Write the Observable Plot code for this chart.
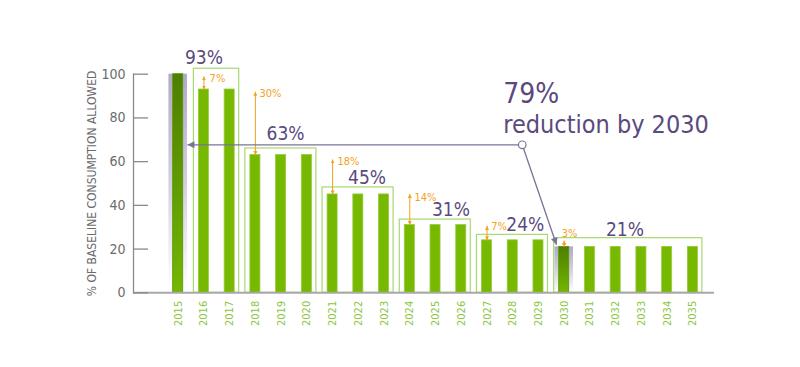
<!DOCTYPE html>
<html><head><meta charset="utf-8">
<script src="https://cdn.jsdelivr.net/npm/d3@7"></script>
<script src="https://cdn.jsdelivr.net/npm/@observablehq/plot@0.6"></script>
<style>
html,body{margin:0;padding:0;background:#fff;}
#chart svg{display:block;}
</style></head><body><div id="chart"></div>
<script>
// ---- data ----
const years = [2015,2016,2017,2018,2019,2020,2021,2022,2023,2024,2025,2026,2027,2028,2029,2030,2031,2032,2033,2034,2035];
const allowed = [100,93,93,63,63,63,45,45,45,31,31,31,24,24,24,21,21,21,21,21,21];
const highlightYears = [2015, 2030];
const yTicks = [0,20,40,60,80,100];
const yTitle = "% OF BASELINE CONSUMPTION ALLOWED";

const groupStart = [2016,2018,2021,2024,2027,2030];
const groupEnd   = [2017,2020,2023,2026,2029,2035];
const groupTop   = [102.5,66,48.2,33.5,26.5,25];
const groupLabels = ["93%","63%","45%","31%","24%","21%"];
const groupLabelX = [2016,2019.17,2022.34,2025.6,2028.49,2032.36];
const groupLabelY = [104.7,70,49.9,35.3,28.1,25.8];

const stepYears  = [2016,2018,2021,2024,2027,2030];
const stepFrom   = [99,92,61,45.2,30.6,23.9];
const stepTo     = [93,63,45,31,24,21];
const stepLabels = ["7%","30%","18%","14%","7%","3%"];
const stepLabelX = [2016.22,2018.16,2021.19,2024.18,2027.16,2029.9];
const stepLabelY = [98.1,91.1,60,43.6,30.3,27.2];

const headline = ["79%","reduction by 2030"];
const headlineX = [2027.63,2027.63];
const headlineY = [87,73.3];
const calloutJoint = [2028.37, 67.7];
const calloutTargetX = [2015.36, 2029.7];
const calloutTargetY = [67.7, 22];

// ---- tables ----
const bars = years.map((y,i)=>({year:y, value:allowed[i], hi: highlightYears.includes(y)}));
const groups = groupStart.map((s,i)=>({s, e:groupEnd[i], top:groupTop[i], label:groupLabels[i], lx:groupLabelX[i], ly:groupLabelY[i]}));
const steps = stepYears.map((y,i)=>({year:y, from:stepFrom[i], to:stepTo[i], label:stepLabels[i], lx:stepLabelX[i], ly:stepLabelY[i]}));
const heads = headline.map((t,i)=>({t, x:headlineX[i], y:headlineY[i], size: i === 0 ? 28 : 25}));
const callouts = calloutTargetX.map((x,i)=>({x1:calloutJoint[0], y1:calloutJoint[1], x2:x, y2:calloutTargetY[i]}));

const FONT = "'DejaVu Sans Condensed','Liberation Sans Narrow',sans-serif";
const PURPLE = "#5a4a7e", LINE = "#7c7299", GREEN = "#76b900", BOX = "#a9d870", ORANGE = "#f4a11c";

const defs = () => {
  const d = d3.create("svg:defs");
  const sh = d.append("linearGradient").attr("id","shadowGrad").attr("x1",0).attr("y1",0).attr("x2",0).attr("y2",1);
  sh.append("stop").attr("offset","0%").attr("stop-color","#aeaac4");
  sh.append("stop").attr("offset","50%").attr("stop-color","#d2cfe0");
  sh.append("stop").attr("offset","100%").attr("stop-color","#ffffff");
  const dk = d.append("linearGradient").attr("id","darkGrad").attr("x1",0).attr("y1",0).attr("x2",0).attr("y2",1);
  dk.append("stop").attr("offset","0%").attr("stop-color","#4c7f00");
  dk.append("stop").attr("offset","100%").attr("stop-color","#74b600");
  const ph = d.append("marker").attr("id","pHead").attr("viewBox","0 0 10 10").attr("refX",10).attr("refY",5)
    .attr("markerWidth",9).attr("markerHeight",7).attr("markerUnits","userSpaceOnUse").attr("orient","auto");
  ph.append("path").attr("d","M0,0L10,5L0,10z").attr("fill",LINE);
  const oh = d.append("marker").attr("id","oHead").attr("viewBox","0 0 10 10").attr("refX",10).attr("refY",5)
    .attr("markerWidth",4).attr("markerHeight",4).attr("markerUnits","userSpaceOnUse").attr("orient","auto-start-reverse");
  oh.append("path").attr("d","M0,0L10,5L0,10z").attr("fill",ORANGE);
  return d.node();
};

const plot = Plot.plot({
  width: 800, height: 367,
  marginLeft: 133, marginRight: 86, marginTop: 73.7, marginBottom: 74.7,
  style: {fontFamily: FONT, background: "#fff", overflow: "visible"},
  x: {type: "linear", domain: [2013.263, 2035.84]},
  y: {domain: [0, 100]},
  marks: [
    defs,
    Plot.rectY(bars.filter(d=>d.hi), {x1: d=>d.year-0.36, x2: d=>d.year+0.36, y1: 0, y2: "value", fill: "url(#shadowGrad)"}),
    Plot.rect(groups, {x1: d=>d.s-0.39, x2: d=>d.e+0.37, y1: 0, y2: "top", fill: "none", stroke: BOX, strokeWidth: 1.2}),
    Plot.rectY(bars, {x1: d=>d.year-0.195, x2: d=>d.year+0.195, y1: 0, y2: "value",
      fill: d=>d.hi ? "url(#darkGrad)" : GREEN, stroke: d=>d.hi ? "#5b9400" : "#96cc3c", strokeWidth: 0.8}),
    Plot.frame({anchor: "left", stroke: "#8a8a8a", strokeWidth: 1.3}),
    Plot.ruleY([0], {stroke: "#a8a8a8", strokeWidth: 2}),
    Plot.axisY({ticks: yTicks, tickSize: -15, tickPadding: 23, stroke: "#8a8a8a", strokeWidth: 1.3, fill: "#6b6b6b", fontSize: 14, label: null}),
    Plot.axisX({ticks: years, tickFormat: d=>String(d), tickRotate: -90, tickSize: 0, tickPadding: 8, fill: "#8cc63f", fontSize: 11, label: null}),
    Plot.text([yTitle], {frameAnchor: "left", dx: -41, rotate: -90, textAnchor: "middle", fill: "#6b6b6b", fontSize: 12}),
    Plot.link(steps, {x1: "year", x2: "year", y1: "from", y2: "to", stroke: ORANGE, strokeWidth: 1}),
    Plot.text(steps, {x: "lx", y: "ly", text: "label", textAnchor: "start", fill: ORANGE, fontSize: 11}),
    Plot.text(groups, {x: "lx", y: "ly", text: "label", lineAnchor: "bottom", fill: PURPLE, fontSize: 19}),
    Plot.link(callouts, {x1: "x1", y1: "y1", x2: "x2", y2: "y2", stroke: LINE, strokeWidth: 1.3}),
    Plot.dot([calloutJoint], {x: d=>d[0], y: d=>d[1], r: 3.8, stroke: LINE, strokeWidth: 1.2, fill: "#fff"}),
    Plot.text(heads, {x: "x", y: "y", text: "t", textAnchor: "start", lineAnchor: "bottom", fill: PURPLE, fontSize: "size"})
  ]
});

const links = d3.select(plot).selectAll('g[aria-label="link"]').nodes();
d3.select(links[0]).selectAll("path").attr("marker-end","url(#oHead)").attr("marker-start","url(#oHead)");
d3.select(links[1]).selectAll("path").attr("marker-end","url(#pHead)");
document.getElementById("chart").appendChild(plot);
</script></body></html>
